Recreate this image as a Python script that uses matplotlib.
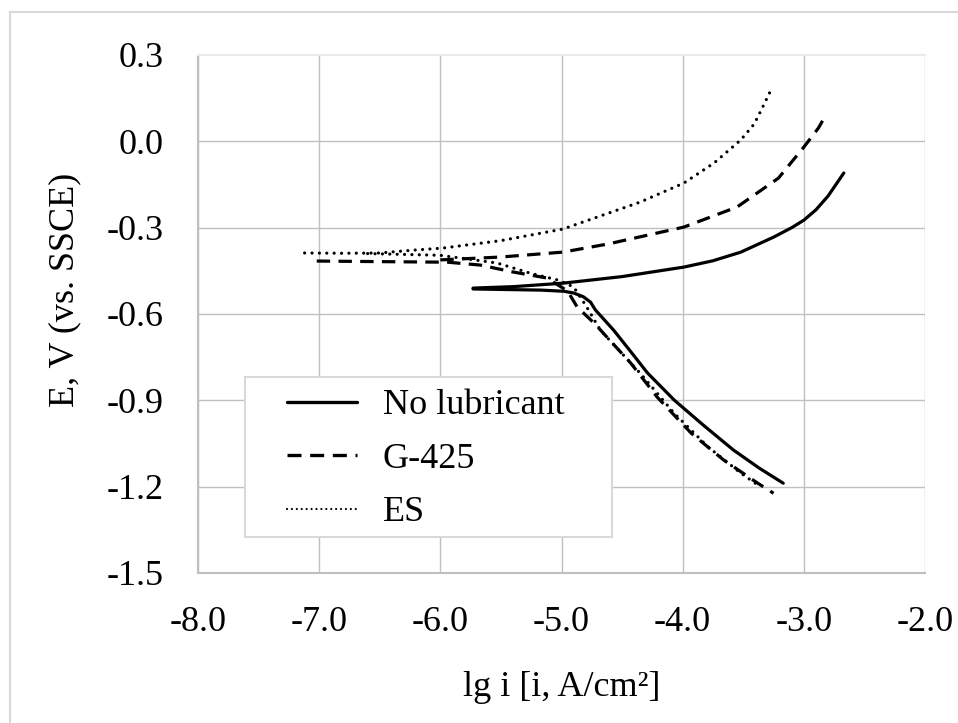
import matplotlib.pyplot as plt
from matplotlib.patches import Rectangle

# lg i vs E; each curve is drawn as a cathodic and an anodic branch
none_cat_x = [-5.73, -5.45, -5.17, -4.98, -4.9, -4.82, -4.76, -4.72, -4.57, -4.43, -4.29,
              -4.07, -3.83, -3.58, -3.37, -3.17]
none_cat_y = [-0.513, -0.515, -0.517, -0.521, -0.527, -0.540, -0.559, -0.586, -0.656, -0.730,
              -0.805, -0.899, -0.986, -1.073, -1.135, -1.188]
none_an_x = [-5.73, -5.4, -4.99, -4.5, -3.99, -3.75, -3.52, -3.25, -3.1, -3.0, -2.9, -2.8,
             -2.67]
none_an_y = [-0.510, -0.505, -0.493, -0.470, -0.437, -0.415, -0.385, -0.333, -0.300, -0.274,
             -0.238, -0.190, -0.110]

g425_cat_x = [-7.02, -6.5, -5.94, -5.67, -5.4, -5.12, -4.95, -4.87, -4.73, -4.43, -4.21,
              -3.93, -3.66, -3.38, -3.25]
g425_cat_y = [-0.416, -0.418, -0.420, -0.430, -0.454, -0.475, -0.520, -0.576, -0.632, -0.770,
              -0.889, -1.014, -1.108, -1.188, -1.223]
g425_an_x = [-6.0, -5.5, -4.99, -4.62, -3.99, -3.55, -3.21, -3.0, -2.88, -2.82]
g425_an_y = [-0.412, -0.402, -0.385, -0.357, -0.298, -0.228, -0.128, -0.020, 0.046, 0.090]

es_cat_x = [-6.6, -6.0, -5.53, -5.26, -5.03, -4.9, -4.8, -4.68, -4.35, -4.07, -3.79,
            -3.52, -3.36]
es_cat_y = [-0.390, -0.396, -0.423, -0.458, -0.482, -0.506, -0.570, -0.656, -0.806, -0.945,
            -1.062, -1.153, -1.200]
es_an_x = [-7.12, -6.8, -6.5, -6.22, -5.98, -5.5, -4.99, -4.35, -3.99, -3.74, -3.52, -3.41,
           -3.35, -3.28]
es_an_y = [-0.388, -0.389, -0.388, -0.378, -0.371, -0.345, -0.305, -0.211, -0.145, -0.075,
           0.005, 0.060, 0.110, 0.171]

labels = ["No lubricant", "G-425", "ES"]
xticks = [-8.0, -7.0, -6.0, -5.0, -4.0, -3.0, -2.0]
yticks = [0.3, 0.0, -0.3, -0.6, -0.9, -1.2, -1.5]

plt.rcParams["font.family"] = ["Liberation Serif", "DejaVu Serif"]
fs = 26

fig = plt.figure(figsize=(9.58, 7.23), dpi=100)
fig.patches.append(Rectangle((10 / 958, -0.05), 1.0, 1 - 12 / 723 + 0.05,
                             transform=fig.transFigure, fill=False,
                             edgecolor="#d9d9d9", linewidth=1.5))
ax = fig.add_axes([198 / 958, 1 - 573 / 723, 727 / 958, 518 / 723])

lw = 2.3
solid = dict(color="black", linewidth=lw, linestyle="-", solid_capstyle="round")
dashed = dict(color="black", linewidth=lw, linestyle=(0, (4.2, 2.6)))
dotted = dict(color="black", linewidth=lw, linestyle=(0, (0.01, 2.3)),
              dash_capstyle="round")

ax.plot(none_cat_x, none_cat_y, **solid)
ax.plot(none_an_x, none_an_y, label=labels[0], **solid)
ax.plot(g425_cat_x, g425_cat_y, **dashed)
ax.plot(g425_an_x, g425_an_y, label=labels[1], **dashed)
ax.plot(es_cat_x, es_cat_y, **dotted)
ax.plot(es_an_x, es_an_y, label=labels[2], **dotted)

ax.set_xlim(-8, -2)
ax.set_ylim(-1.5, 0.3)
ax.set_xticks(xticks)
ax.set_yticks(yticks)
ax.set_xticklabels([f"{v:.1f}" for v in xticks])
ax.set_yticklabels([f"{v:.1f}" for v in yticks])
ax.tick_params(axis="x", length=0, labelsize=fs, pad=24)
ax.tick_params(axis="y", length=0, labelsize=fs, pad=25)
ax.grid(True, color="#c0c0c0", linewidth=1)
ax.set_axisbelow(True)
ax.get_ygridlines()[0].set_visible(False)
ax.spines["right"].set_visible(False)
ax.spines["top"].set_color("#ebebeb")
ax.spines["top"].set_linewidth(1.5)
for s in ["left", "bottom"]:
    ax.spines[s].set_color("#bfbfbf")
    ax.spines[s].set_linewidth(1.5)

ax.set_xlabel("lg i [i, A/cm²]", fontsize=fs, va="center")
ax.set_ylabel("E, V (vs. SSCE)", fontsize=fs)
ax.xaxis.set_label_coords(0.5, -0.222)
ax.yaxis.set_label_coords(-0.16, 0.546)

# legend box drawn separately so its padding matches the reference
ax.add_patch(Rectangle(((245 - 198) / 727, (573 - 537) / 518), 367 / 727, 160 / 518,
                       transform=ax.transAxes, facecolor="white",
                       edgecolor="#d9d9d9", linewidth=1.5, zorder=4))
leg = ax.legend(loc="upper left", bbox_to_anchor=((287 - 198) / 727, (573 - 389) / 518),
                fontsize=fs, frameon=False, handlelength=1.95, handletextpad=0.7,
                labelspacing=0.56, borderpad=0, borderaxespad=0)
leg.set_zorder(5)
for line in leg.get_lines():
    line.set_linewidth(2.4)
leg.get_lines()[2].set_linewidth(1.6)
leg.get_lines()[2].set_linestyle((0, (0.01, 2.2)))

fig.savefig("out.png", dpi=100)
